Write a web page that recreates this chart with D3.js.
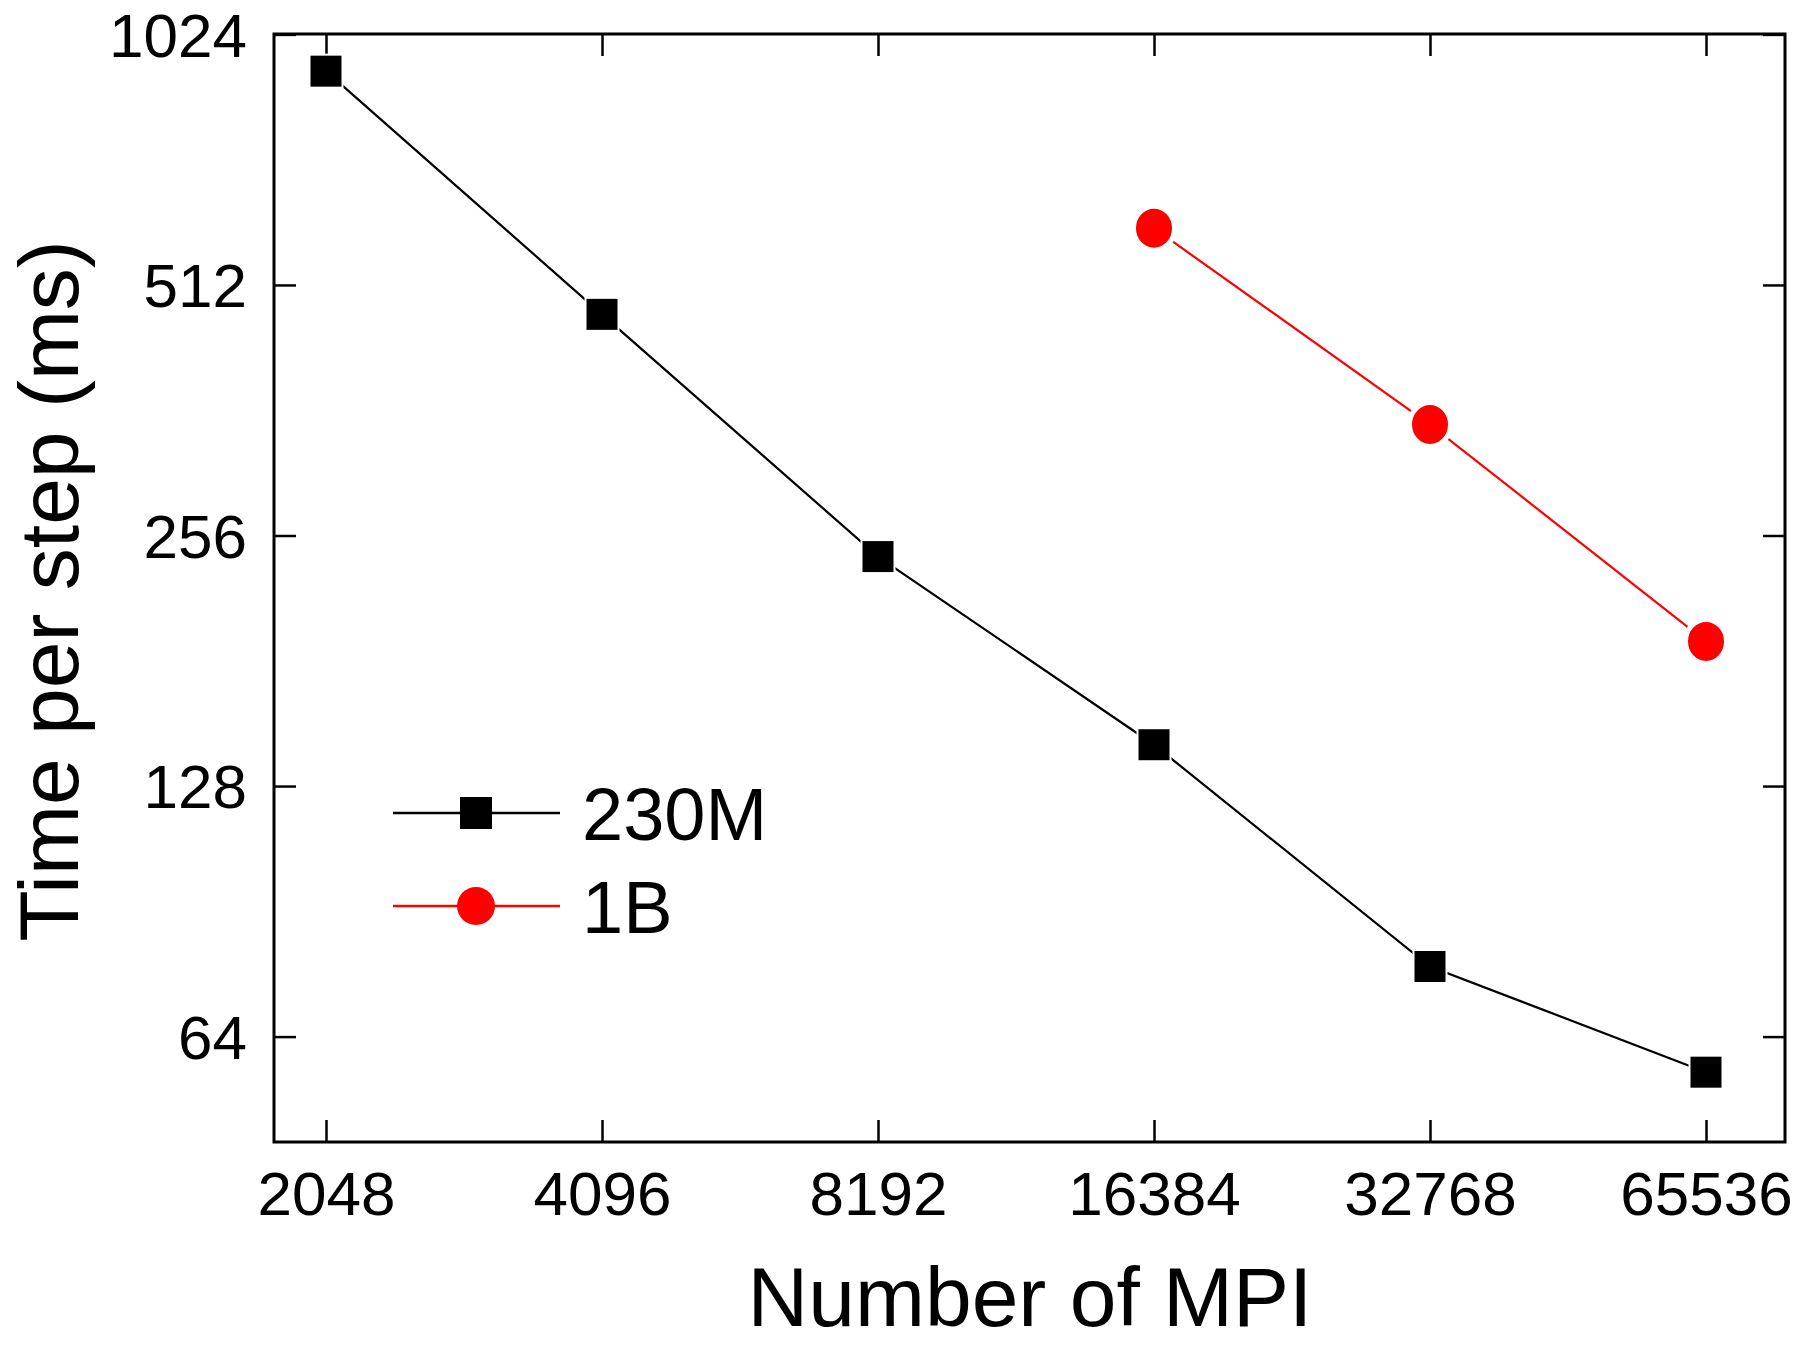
<!DOCTYPE html>
<html><head><meta charset="utf-8">
<script src="https://cdn.jsdelivr.net/npm/d3@7/dist/d3.min.js"></script>
<style>body{margin:0;background:#fff}svg{display:block}text{font-family:"Liberation Sans",Arial,sans-serif}</style>
</head><body>
<svg id="c" width="1800" height="1346"></svg>
<script>
const xTicks = [2048, 4096, 8192, 16384, 32768, 65536];
const yTicks = [64, 128, 256, 512, 1024];
const mpi230M = [2048, 4096, 8192, 16384, 32768, 65536];
const time230M = [925, 472, 241.5, 143.5, 77.7, 58.0];
const mpi1B = [16384, 32768, 65536];
const time1B = [599, 348, 191];
const seriesNames = ["230M", "1B"];

const svg = d3.select("#c");
const L = 274, R = 1785, T = 34, B = 1142;
const x = d3.scaleLog().base(2).domain([2048, 65536]).range([326, 1706]);
const y = d3.scaleLog().base(2).domain([64, 1024]).range([1036.6, 34.4]);
const tickLen = 22;

const fmt = d => String(d);
const gB = svg.append("g").attr("transform", `translate(0,${B})`)
  .call(d3.axisBottom(x).tickValues(xTicks).tickFormat(fmt).tickSize(-tickLen));
const gT = svg.append("g").attr("transform", `translate(0,${T})`)
  .call(d3.axisTop(x).tickValues(xTicks).tickFormat("").tickSize(-tickLen));
const gL = svg.append("g").attr("transform", `translate(${L},0)`)
  .call(d3.axisLeft(y).tickValues(yTicks).tickFormat(fmt).tickSize(-tickLen));
const gR = svg.append("g").attr("transform", `translate(${R},0)`)
  .call(d3.axisRight(y).tickValues(yTicks).tickFormat("").tickSize(-tickLen));
[gB, gT, gL, gR].forEach(g => {
  g.select(".domain").remove();
  g.selectAll(".tick line").attr("stroke", "#000").attr("stroke-width", 2.5);
  g.selectAll(".tick text").attr("fill", "#000").style("font-size", "62px")
    .style("font-family", '"Liberation Sans", Arial, sans-serif');
});
gB.selectAll(".tick text").attr("dy", "0.71em").attr("y", 29);
gL.selectAll(".tick text").attr("x", -27).attr("dy", "0.35em");

svg.append("rect").attr("x", L).attr("y", T).attr("width", R - L).attr("height", B - T)
  .attr("fill", "none").attr("stroke", "#000").attr("stroke-width", 3);

const d230 = mpi230M.map((m, i) => [m, time230M[i]]);
const d1B = mpi1B.map((m, i) => [m, time1B[i]]);
const line = d3.line().x(d => x(d[0])).y(d => y(d[1]));
svg.append("path").datum(d230).attr("d", line).attr("fill", "none").attr("stroke", "#000").attr("stroke-width", 2.2);
svg.append("path").datum(d1B).attr("d", line).attr("fill", "none").attr("stroke", "#ff0000").attr("stroke-width", 2.2);
const sq = 33;
svg.selectAll(".sq").data(d230).enter().append("rect")
  .attr("x", d => x(d[0]) - sq / 2).attr("y", d => y(d[1]) - sq / 2)
  .attr("width", sq).attr("height", sq).attr("fill", "#000")
  .attr("stroke", "#fff").attr("stroke-width", 2);
svg.selectAll(".ci").data(d1B).enter().append("ellipse")
  .attr("cx", d => x(d[0])).attr("cy", d => y(d[1])).attr("rx", 20.5).attr("ry", 22)
  .attr("fill", "#ff0000").attr("stroke", "#fff").attr("stroke-width", 5);

const lg = svg.append("g");
const legY = [813, 906];
lg.append("line").attr("x1", 393).attr("x2", 560).attr("y1", legY[0]).attr("y2", legY[0]).attr("stroke", "#000").attr("stroke-width", 2.5);
lg.append("rect").attr("x", 476 - 16).attr("y", legY[0] - 16).attr("width", 32).attr("height", 32).attr("fill", "#000");
lg.append("line").attr("x1", 393).attr("x2", 560).attr("y1", legY[1]).attr("y2", legY[1]).attr("stroke", "#ff0000").attr("stroke-width", 2.5);
lg.append("circle").attr("cx", 476).attr("cy", legY[1]).attr("r", 19).attr("fill", "#ff0000");
lg.selectAll("text").data(seriesNames).enter().append("text")
  .attr("x", 582).attr("y", (d, i) => legY[i] + 27).text(d => d)
  .style("font-size", "74px").attr("fill", "#000");

svg.append("text").attr("x", 1030).attr("y", 1326).attr("text-anchor", "middle")
  .style("font-size", "84px").text("Number of MPI");
svg.append("text").attr("transform", "translate(78,591) rotate(-90)").attr("text-anchor", "middle")
  .style("font-size", "84px").text("Time per step (ms)");
</script>
</body></html>
